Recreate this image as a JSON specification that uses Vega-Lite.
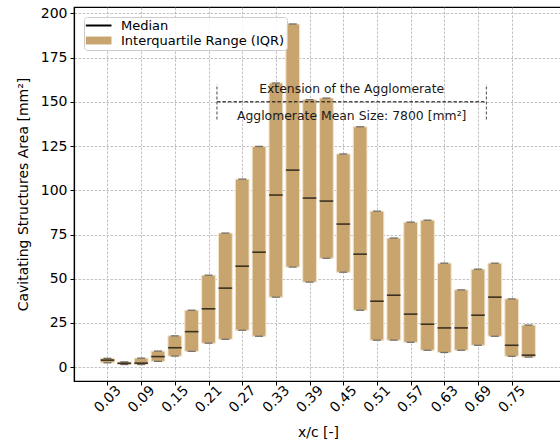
{
  "$schema": "https://vega.github.io/schema/vega-lite/v6.json",
  "autosize": {"type": "none"},
  "padding": {"left": 74, "top": 7, "right": 0, "bottom": 66},
  "width": 488,
  "height": 374,
  "background": "white",
  "config": {
    "font": "DejaVu Sans",
    "view": {"stroke": "black", "strokeWidth": 1.2},
    "axis": {
      "domainColor": "black", "domainWidth": 1.2,
      "tickColor": "black", "tickSize": 4, "tickWidth": 1,
      "labelFont": "DejaVu Sans", "labelFontSize": 14, "labelColor": "black",
      "titleFont": "DejaVu Sans", "titleFontSize": 14, "titleFontWeight": "normal", "titleColor": "black",
      "gridColor": "#a8a8a8", "gridDash": [2.5, 1.5], "gridWidth": 0.7
    },
    "legend": {
      "orient": "top-left",
      "offset": 10,
      "padding": 2,
      "rowPadding": 1,
      "symbolSize": 324,
      "symbolOpacity": 1,
      "labelOffset": 22,
      "labelFontSize": 13,
      "labelLimit": 400,
      "labelFont": "DejaVu Sans",
      "labelColor": "black",
      "strokeColor": "#cccccc",
      "fillColor": "rgba(255,255,255,0.85)",
      "cornerRadius": 3
    }
  },
  "datasets": {
    "bars": [
      {"xc": 0.03, "q1": 2.5, "med": 4.0, "q3": 5.0},
      {"xc": 0.06, "q1": 1.5, "med": 2.2, "q3": 3.0},
      {"xc": 0.09, "q1": 1.5, "med": 2.3, "q3": 5.1},
      {"xc": 0.12, "q1": 3.3, "med": 6.0, "q3": 9.1},
      {"xc": 0.15, "q1": 6.3, "med": 11.0, "q3": 17.7},
      {"xc": 0.18, "q1": 9.0, "med": 20.1, "q3": 32.2},
      {"xc": 0.21, "q1": 13.6, "med": 33.0, "q3": 52.0},
      {"xc": 0.24, "q1": 15.8, "med": 44.7, "q3": 75.8},
      {"xc": 0.27, "q1": 20.9, "med": 57.1, "q3": 106.3},
      {"xc": 0.30, "q1": 17.5, "med": 65.0, "q3": 124.8},
      {"xc": 0.33, "q1": 39.6, "med": 97.3, "q3": 160.6},
      {"xc": 0.36, "q1": 56.6, "med": 111.4, "q3": 194.0},
      {"xc": 0.39, "q1": 48.1, "med": 95.6, "q3": 151.2},
      {"xc": 0.42, "q1": 61.6, "med": 93.9, "q3": 152.1},
      {"xc": 0.45, "q1": 53.7, "med": 80.9, "q3": 120.5},
      {"xc": 0.48, "q1": 32.2, "med": 63.9, "q3": 135.9},
      {"xc": 0.51, "q1": 15.3, "med": 37.3, "q3": 88.2},
      {"xc": 0.54, "q1": 15.3, "med": 40.7, "q3": 73.0},
      {"xc": 0.57, "q1": 14.1, "med": 30.0, "q3": 82.0},
      {"xc": 0.60, "q1": 9.6, "med": 24.3, "q3": 83.1},
      {"xc": 0.63, "q1": 8.3, "med": 22.2, "q3": 58.8},
      {"xc": 0.66, "q1": 9.6, "med": 22.2, "q3": 43.7},
      {"xc": 0.69, "q1": 12.4, "med": 29.4, "q3": 55.4},
      {"xc": 0.72, "q1": 17.5, "med": 39.6, "q3": 58.8},
      {"xc": 0.75, "q1": 6.2, "med": 12.4, "q3": 38.6},
      {"xc": 0.78, "q1": 5.7, "med": 6.8, "q3": 23.8}
    ],
    "lines": [
      {"x1": 0.225, "x2": 0.705, "y1": 150, "y2": 150, "kind": "h"},
      {"x1": 0.225, "x2": 0.225, "y1": 140, "y2": 160, "kind": "v"},
      {"x1": 0.705, "x2": 0.705, "y1": 140, "y2": 160, "kind": "v"}
    ],
    "notes": [
      {"xc": 0.465, "y": 157.5, "t": "Extension of the Agglomerate"},
      {"xc": 0.465, "y": 142.0, "t": "Agglomerate Mean Size: 7800 [mm²]"}
    ]
  },
  "layer": [
    {
      "data": {"name": "bars"},
      "mark": {"type": "bar", "width": 13.7, "stroke": "#f2e2c9", "strokeWidth": 1},
      "encoding": {
        "x": {
          "field": "xc", "type": "quantitative",
          "scale": {"domain": [-0.0207, 0.8307], "nice": false, "zero": false},
          "axis": {
            "title": "x/c [-]",
            "values": [0.03, 0.09, 0.15, 0.21, 0.27, 0.33, 0.39, 0.45, 0.51, 0.57, 0.63, 0.69, 0.75],
            "format": ".2f",
            "labelAngle": -45, "labelAlign": "center", "labelBaseline": "middle",
            "labelPadding": 14, "titlePadding": 11, "labelFlush": false, "labelOverlap": false
          }
        },
        "y": {
          "field": "q1", "type": "quantitative",
          "scale": {"domain": [-7.8, 203.6], "nice": false, "zero": false},
          "axis": {
            "title": "Cavitating Structures Area [mm²]",
            "values": [0, 25, 50, 75, 100, 125, 150, 175, 200],
            "labelPadding": 3, "titlePadding": 10, "labelFlush": false
          }
        },
        "y2": {"field": "q3"},
        "color": {
          "datum": "Interquartile Range (IQR)",
          "scale": {"domain": ["Median", "Interquartile Range (IQR)"], "range": ["black", "#C8A56E"]},
          "legend": {
            "title": null,
            "symbolType": {"expr": "datum.value === 'Median' ? 'M-0.74,0H2.11' : 'M-0.74,-0.44H2.11V0.44H-0.74Z'"},
            "symbolStrokeWidth": {"expr": "datum.value === 'Median' ? 2 : 0"},
            "symbolStrokeColor": {"expr": "datum.value === 'Median' ? 'black' : 'transparent'"}
          }
        }
      }
    },
    {
      "data": {"name": "bars"},
      "mark": {"type": "tick", "orient": "horizontal", "size": 8, "thickness": 1.3, "color": "#3c3c3c"},
      "encoding": {
        "x": {"field": "xc", "type": "quantitative"},
        "y": {"field": "q1", "type": "quantitative"}
      }
    },
    {
      "data": {"name": "bars"},
      "mark": {"type": "tick", "orient": "horizontal", "size": 8, "thickness": 1.3, "color": "#3c3c3c"},
      "encoding": {
        "x": {"field": "xc", "type": "quantitative"},
        "y": {"field": "q3", "type": "quantitative"}
      }
    },
    {
      "data": {"name": "bars"},
      "mark": {"type": "tick", "orient": "horizontal", "size": 13.7, "thickness": 1.6},
      "encoding": {
        "x": {"field": "xc", "type": "quantitative"},
        "y": {"field": "med", "type": "quantitative"},
        "color": {"datum": "Median"}
      }
    },
    {
      "data": {"name": "lines"},
      "transform": [{"filter": "datum.kind === 'h'"}],
      "mark": {"type": "rule", "color": "black", "strokeWidth": 1, "strokeDash": [3.5, 2]},
      "encoding": {
        "x": {"field": "x1", "type": "quantitative"},
        "x2": {"field": "x2"},
        "y": {"field": "y1", "type": "quantitative"},
        "y2": {"field": "y2"}
      }
    },
    {
      "data": {"name": "lines"},
      "transform": [{"filter": "datum.kind === 'v'"}],
      "mark": {"type": "rule", "color": "#666666", "strokeWidth": 1.2, "strokeDash": [3, 2]},
      "encoding": {
        "x": {"field": "x1", "type": "quantitative"},
        "x2": {"field": "x2"},
        "y": {"field": "y1", "type": "quantitative"},
        "y2": {"field": "y2"}
      }
    },
    {
      "data": {"name": "notes"},
      "mark": {"type": "text", "font": "DejaVu Sans", "fontSize": 12.4, "color": "#1a1a1a", "align": "center", "baseline": "middle"},
      "encoding": {
        "x": {"field": "xc", "type": "quantitative"},
        "y": {"field": "y", "type": "quantitative"},
        "text": {"field": "t"}
      }
    }
  ]
}
